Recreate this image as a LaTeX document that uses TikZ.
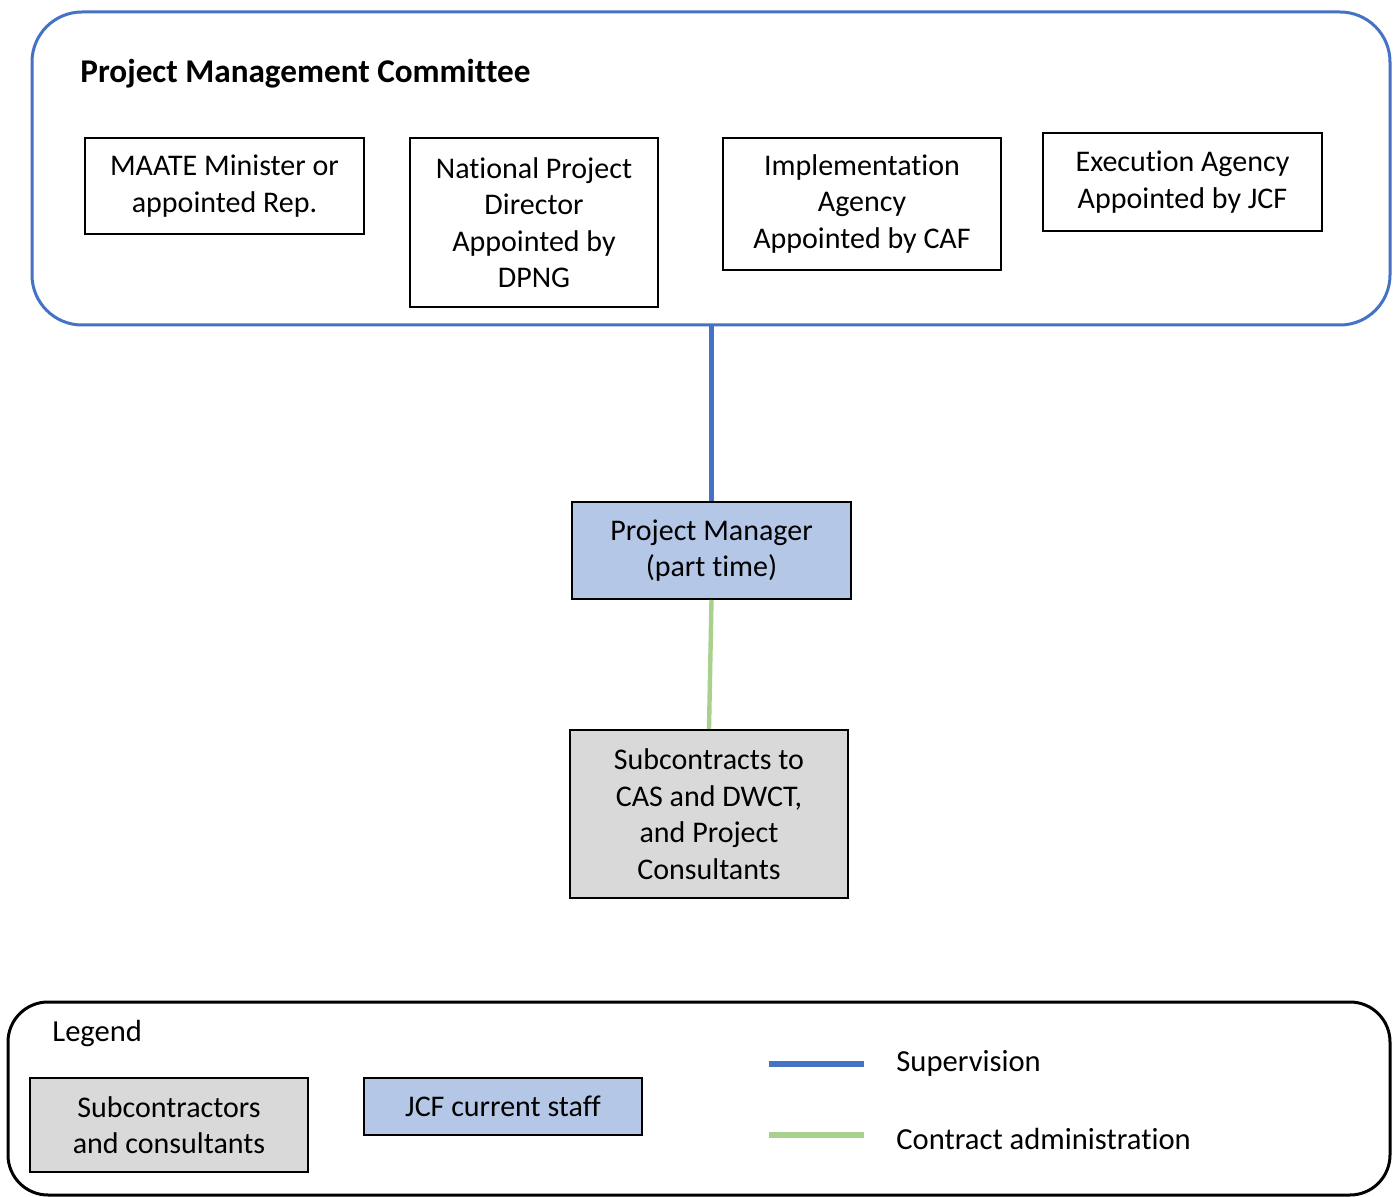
\documentclass[tikz,border=0pt]{standalone}
\usepackage{fontspec}
\setmainfont{Carlito}[Ligatures=NoCommon]
\definecolor{supblue}{HTML}{4472C4}
\definecolor{staffblue}{HTML}{B4C7E7}
\definecolor{subgray}{HTML}{D9D9D9}
\definecolor{contgreen}{HTML}{A9D18E}
\tikzset{
  boxnode/.style={draw=black, line width=1pt, rectangle, align=center, inner sep=0pt,
    font=\fontsize{15}{18.25}\selectfont, text=black},
  staffnode/.style={boxnode, fill=staffblue},
  subnode/.style={boxnode, fill=subgray},
  supline/.style={draw=supblue, line width=2.5pt},
  contline/.style={draw=contgreen, line width=2.2pt},
  labeltext/.style={anchor=west, inner sep=0pt, font=\fontsize{15.3}{18.25}\selectfont}
}
\begin{document}
\begin{tikzpicture}[x=0.5pt,y=-0.5pt]
\useasboundingbox (0,0) rectangle (1399,1197);
% committee frame
\node[draw=supblue, line width=1.5pt, rounded corners=25pt, minimum width=679pt, minimum height=156.5pt, inner sep=0pt] (committee) at (711,168.5) {};
\node[anchor=west, inner sep=0pt, font=\fontsize{16.6}{19}\selectfont\bfseries] (title) at (80,74) {Project Management Committee};
\node[boxnode, minimum width=139.5pt, minimum height=48pt] (maate) at (224.5,186) {MAATE Minister or\\appointed Rep.};
\node[boxnode, minimum width=124pt, minimum height=84.5pt] (npd) at (534,222.5) {National Project\\Director\\Appointed by\\DPNG};
\node[boxnode, minimum width=139pt, minimum height=66pt] (impl) at (862,204) {Implementation\\Agency\\Appointed by CAF};
\node[boxnode, minimum width=139.5pt, minimum height=49pt] (exec) at (1182.5,182) {Execution Agency\\Appointed by JCF};
% project manager and subcontracts
\node[staffnode, minimum width=139.5pt, minimum height=48.5pt] (pm) at (711.5,550.5) {Project Manager\\(part time)};
\node[subnode, minimum width=139pt, minimum height=84pt] (sub) at (709,814) {Subcontracts to\\CAS and DWCT,\\and Project\\Consultants};
\draw[supline] (pm.north |- committee.south) -- (pm.north);
\draw[contline] (pm.south) -- (sub.north);
% legend
\node[draw=black, line width=1.5pt, rounded corners=20pt, minimum width=691pt, minimum height=96.5pt, inner sep=0pt] (legend) at (699,1098.5) {};
\node[labeltext] (legendtitle) at (52,1034) {Legend};
\node[subnode, minimum width=139pt, minimum height=47pt] (legsub) at (169,1125) {Subcontractors\\and consultants};
\node[staffnode, minimum width=139pt, minimum height=28.5pt] (legstaff) at (503,1106.5) {JCF current staff};
\coordinate (supA) at (769,1064);
\coordinate (supB) at (864,1064);
\coordinate (conA) at (769,1135);
\coordinate (conB) at (864,1135);
\draw[supline, line width=3pt] (supA) -- (supB);
\draw[contline, line width=3pt] (conA) -- (conB);
\node[labeltext] (suptext) at (896,1063) {Supervision};
\node[labeltext] (context) at (896,1139) {Contract administration};
\end{tikzpicture}
\end{document}
